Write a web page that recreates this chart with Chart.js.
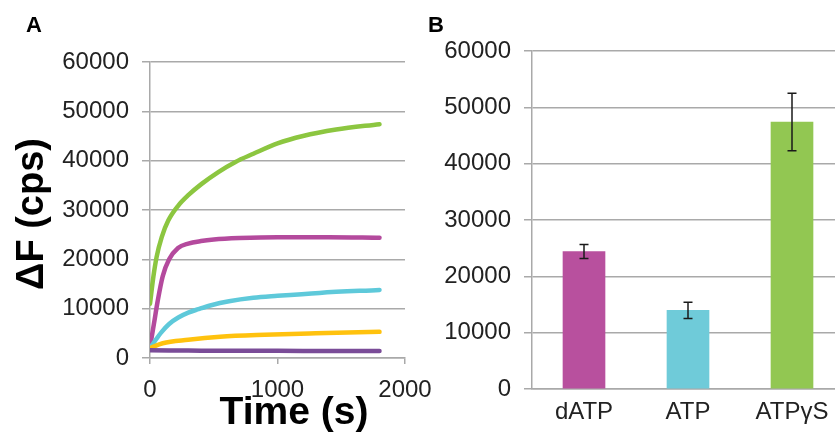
<!DOCTYPE html>
<html>
<head>
<meta charset="utf-8">
<script src="https://cdn.jsdelivr.net/npm/chart.js@4"></script>
<style>
  html, body { margin: 0; padding: 0; background: #fff; overflow: hidden; width: 835px; height: 433px; }
  canvas { position: absolute; top: 0; }
  #chartA { left: 0; }
  #chartB { left: 420px; }
</style>
</head>
<body>
<canvas id="chartA" width="450" height="433"></canvas>
<canvas id="chartB" width="430" height="433"></canvas>
<script>
// ---- panel A: fluorescence time courses (time in s, ΔF in cps) ----
const timeTicks = [0, 1000, 2000];
const cpsTicks = [0, 10000, 20000, 30000, 40000, 50000, 60000];

const greenT = [0, 26, 52, 92, 144, 222, 300, 405, 536, 667, 811, 1000, 1200, 1460, 1800];
const greenV = [11000, 16400, 20500, 24500, 27900, 30900, 33000, 35300, 37700, 39700, 41400, 43500, 45000, 46300, 47400];

const magentaT = [0, 30, 60, 100, 150, 220, 300, 400, 500, 700, 1000, 1400, 1800];
const magentaV = [2200, 6800, 11500, 16600, 20000, 22300, 23200, 23700, 24000, 24300, 24500, 24500, 24400];

const cyanT = [0, 40, 92, 150, 222, 300, 380, 480, 620, 810, 1000, 1330, 1800];
const cyanV = [2000, 3500, 5300, 6900, 8200, 9200, 9900, 10700, 11500, 12200, 12600, 13200, 13800];

const yellowT = [0, 100, 300, 550, 900, 1300, 1800];
const yellowV = [2000, 3000, 3700, 4300, 4700, 5000, 5300];

const purpleT = [0, 300, 600, 1000, 1400, 1800];
const purpleV = [1550, 1500, 1450, 1450, 1400, 1400];

// ---- panel B: endpoint amplitudes with error bars ----
const nucleotides = ['dATP', 'ATP', 'ATPγS'];
const amplitudes = [24400, 13950, 47400];
const amplitudeErr = [1250, 1450, 5100];

const GRID = '#a9a9a9';
const TEXT = '#222222';
const FONT = '"Liberation Sans", Arial, sans-serif';

function pts(ts, vs) {
  return ts.map((t, i) => ({ x: t, y: vs[i] }));
}

function fixedTicks(list) {
  return scale => { scale.ticks = list.map(v => ({ value: v })); };
}

// draws free text (panel letters, axis titles)
const panelText = {
  id: 'panelText',
  afterDraw(chart, args, opts) {
    const ctx = chart.ctx;
    (opts.items || []).forEach(it => {
      ctx.save();
      ctx.font = it.font;
      ctx.fillStyle = it.color || '#000';
      ctx.textAlign = 'center';
      ctx.textBaseline = 'middle';
      ctx.translate(it.x, it.y);
      if (it.rotate) ctx.rotate(it.rotate);
      ctx.fillText(it.text, 0, 0);
      ctx.restore();
    });
  }
};

// error bars for the bar chart
const errorBars = {
  id: 'errorBars',
  afterDatasetsDraw(chart) {
    const ctx = chart.ctx;
    const yScale = chart.scales.y;
    const meta = chart.getDatasetMeta(0);
    ctx.save();
    ctx.strokeStyle = '#1a1a1a';
    ctx.lineWidth = 1.5;
    meta.data.forEach((bar, i) => {
      const top = yScale.getPixelForValue(amplitudes[i] + amplitudeErr[i]);
      const bot = yScale.getPixelForValue(amplitudes[i] - amplitudeErr[i]);
      const x = bar.x;
      const cap = 4.5;
      ctx.beginPath();
      ctx.moveTo(x, top); ctx.lineTo(x, bot);
      ctx.moveTo(x - cap, top); ctx.lineTo(x + cap, top);
      ctx.moveTo(x - cap, bot); ctx.lineTo(x + cap, bot);
      ctx.stroke();
    });
    ctx.restore();
  }
};

function lineSet(ts, vs, color) {
  return {
    data: pts(ts, vs),
    borderColor: color,
    borderWidth: 4.5,
    borderCapStyle: 'round',
    cubicInterpolationMode: 'monotone',
    pointRadius: 0,
    fill: false
  };
}

new Chart(document.getElementById('chartA'), {
  type: 'line',
  data: {
    datasets: [
      lineSet(purpleT, purpleV, '#7a4c98'),
      lineSet(yellowT, yellowV, '#ffc20e'),
      lineSet(cyanT, cyanV, '#5ec9da'),
      lineSet(magentaT, magentaV, '#b44a9d'),
      lineSet(greenT, greenV, '#8cc640')
    ]
  },
  options: {
    responsive: false,
    animation: false,
    layout: { padding: { top: 62, right: 45, left: 0, bottom: 0 } },
    plugins: {
      legend: { display: false },
      tooltip: { enabled: false },
      panelText: {
        items: [
          { text: 'A', x: 34, y: 26, font: 'bold 22px ' + FONT },
          { text: 'ΔF (cps)', x: 33, y: 214, rotate: -Math.PI / 2, font: 'bold 38px ' + FONT },
          { text: 'Time (s)', x: 294, y: 413, font: 'bold 39px ' + FONT }
        ]
      }
    },
    scales: {
      x: {
        type: 'linear', min: 0, max: 2000,
        afterBuildTicks: fixedTicks(timeTicks),
        ticks: { color: TEXT, font: { family: FONT, size: 24 }, padding: 12, maxRotation: 0, callback: v => String(v) },
        grid: { drawOnChartArea: false, drawTicks: true, tickLength: 6, color: GRID, lineWidth: 1.5 },
        border: { color: GRID, width: 1.5 },
        afterFit: s => { s.height = 75; }
      },
      y: {
        min: 0, max: 60000,
        afterBuildTicks: fixedTicks(cpsTicks),
        ticks: { color: TEXT, font: { family: FONT, size: 24 }, padding: 13, callback: v => String(v) },
        grid: { color: GRID, lineWidth: 1.5, tickLength: 8 },
        border: { color: GRID, width: 1.5 },
        afterFit: s => { s.width = 150; }
      }
    }
  },
  plugins: [panelText]
});

new Chart(document.getElementById('chartB'), {
  type: 'bar',
  data: {
    labels: nucleotides,
    datasets: [{
      data: amplitudes,
      backgroundColor: ['#b8509e', '#6fcbd9', '#92c752'],
      barThickness: 42
    }]
  },
  options: {
    responsive: false,
    animation: false,
    layout: { padding: { top: 51, right: 6, left: 0, bottom: 0 } },
    plugins: {
      legend: { display: false },
      tooltip: { enabled: false },
      panelText: {
        items: [
          { text: 'B', x: 16, y: 26, font: 'bold 22px ' + FONT }
        ]
      }
    },
    scales: {
      x: {
        ticks: { color: TEXT, font: { family: FONT, size: 24 }, padding: 1 },
        grid: { display: false },
        border: { color: GRID, width: 1.5 },
        afterFit: s => { s.height = 44; }
      },
      y: {
        min: 0, max: 60000,
        afterBuildTicks: fixedTicks(cpsTicks),
        ticks: { color: TEXT, font: { family: FONT, size: 24 }, padding: 13, callback: v => String(v) },
        grid: { color: GRID, lineWidth: 1.5, tickLength: 8 },
        border: { color: GRID, width: 1.5 },
        afterFit: s => { s.width = 112; }
      }
    }
  },
  plugins: [panelText, errorBars]
});
</script>
</body>
</html>
